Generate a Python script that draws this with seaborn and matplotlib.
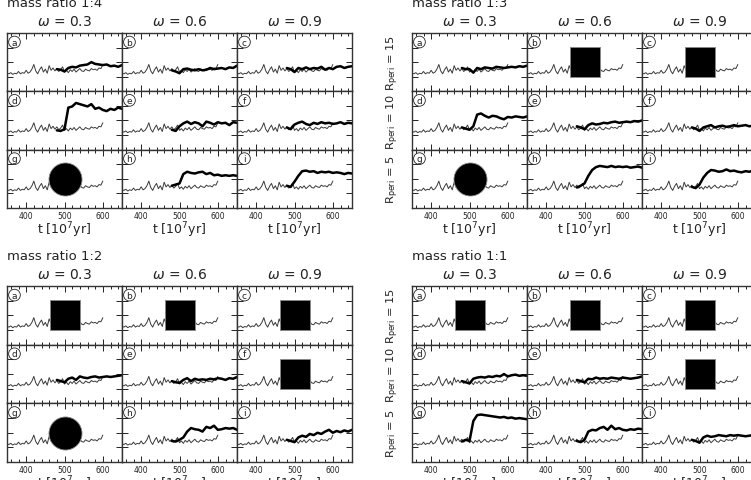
import numpy as np
import pandas as pd
import matplotlib
matplotlib.use("Agg")
import matplotlib.pyplot as plt
from matplotlib.ticker import MultipleLocator, FixedLocator
import seaborn as sns

sns.set_style("ticks")
plt.rcParams["font.family"] = ["DejaVu Sans"]

# ---------------------------------------------------------------- data
# thin line (reference run), t = 350 ... 600 step 5
t_thin = np.arange(350, 601, 5)
thin = [0.31, 0.30, 0.32, 0.29, 0.31, 0.30, 0.34, 0.30, 0.32, 0.31,
        0.36, 0.31, 0.33, 0.38, 0.46, 0.35, 0.30, 0.37, 0.42, 0.33,
        0.38, 0.31, 0.44, 0.36, 0.40, 0.35, 0.39, 0.34, 0.37, 0.42,
        0.33, 0.36, 0.32, 0.37, 0.34, 0.38, 0.33, 0.36, 0.39, 0.35,
        0.34, 0.38, 0.36, 0.35, 0.39, 0.37, 0.38, 0.36, 0.40, 0.39,
        0.46]

# thick line (merger run), t = 480 ... 650 step 10
t_thick = np.arange(480, 651, 10)

thick_14 = {
    "a": [0.38, 0.37, 0.34, 0.40, 0.42, 0.41, 0.44, 0.45, 0.46, 0.50, 0.47, 0.46, 0.45, 0.46, 0.43, 0.44, 0.42, 0.45],
    "b": [0.36, 0.34, 0.31, 0.38, 0.39, 0.37, 0.36, 0.38, 0.36, 0.37, 0.40, 0.38, 0.39, 0.40, 0.38, 0.41, 0.40, 0.44],
    "c": [0.40, 0.38, 0.33, 0.40, 0.38, 0.41, 0.38, 0.40, 0.39, 0.42, 0.37, 0.40, 0.38, 0.42, 0.43, 0.40, 0.42, 0.43],
    "d": [0.33, 0.32, 0.35, 0.72, 0.74, 0.80, 0.78, 0.76, 0.74, 0.78, 0.70, 0.72, 0.68, 0.66, 0.70, 0.68, 0.72, 0.70],
    "e": [0.34, 0.32, 0.40, 0.45, 0.48, 0.44, 0.47, 0.45, 0.40, 0.48, 0.46, 0.43, 0.47, 0.45, 0.46, 0.42, 0.47, 0.46],
    "f": [0.38, 0.35, 0.43, 0.46, 0.48, 0.44, 0.42, 0.46, 0.44, 0.47, 0.45, 0.46, 0.44, 0.45, 0.47, 0.44, 0.46, 0.45],
    "h": [0.38, 0.40, 0.42, 0.58, 0.62, 0.60, 0.59, 0.61, 0.62, 0.58, 0.60, 0.56, 0.57, 0.55, 0.56, 0.55, 0.56, 0.55],
    "i": [0.38, 0.36, 0.45, 0.55, 0.63, 0.64, 0.62, 0.63, 0.60, 0.62, 0.61, 0.62, 0.60, 0.61, 0.60, 0.58, 0.60, 0.59],
}
thick_13 = {
    "a": [0.40, 0.38, 0.38, 0.32, 0.40, 0.38, 0.41, 0.40, 0.39, 0.42, 0.41, 0.40, 0.41, 0.42, 0.41, 0.43, 0.42, 0.44],
    "d": [0.38, 0.36, 0.34, 0.40, 0.60, 0.62, 0.58, 0.55, 0.58, 0.57, 0.54, 0.52, 0.56, 0.55, 0.57, 0.56, 0.55, 0.57],
    "e": [0.40, 0.38, 0.35, 0.42, 0.45, 0.43, 0.44, 0.46, 0.45, 0.47, 0.48, 0.46, 0.47, 0.48, 0.47, 0.49, 0.48, 0.50],
    "f": [0.38, 0.36, 0.32, 0.38, 0.40, 0.42, 0.38, 0.40, 0.41, 0.39, 0.40, 0.42, 0.40, 0.41, 0.42, 0.40, 0.41, 0.40],
    "h": [0.35, 0.38, 0.42, 0.55, 0.65, 0.70, 0.72, 0.71, 0.70, 0.72, 0.70, 0.71, 0.70, 0.71, 0.69, 0.70, 0.71, 0.69],
    "i": [0.36, 0.34, 0.40, 0.52, 0.60, 0.65, 0.64, 0.62, 0.63, 0.66, 0.63, 0.64, 0.62, 0.61, 0.63, 0.62, 0.64, 0.61],
}
thick_12 = {
    "d": [0.40, 0.38, 0.36, 0.42, 0.44, 0.40, 0.46, 0.44, 0.43, 0.45, 0.46, 0.44, 0.45, 0.46, 0.45, 0.46, 0.47, 0.48],
    "e": [0.38, 0.36, 0.35, 0.40, 0.43, 0.38, 0.42, 0.40, 0.41, 0.40, 0.42, 0.41, 0.43, 0.42, 0.40, 0.43, 0.42, 0.45],
    "h": [0.36, 0.35, 0.38, 0.42, 0.52, 0.58, 0.56, 0.55, 0.52, 0.60, 0.58, 0.62, 0.55, 0.56, 0.58, 0.57, 0.58, 0.55],
    "i": [0.38, 0.36, 0.34, 0.42, 0.45, 0.43, 0.48, 0.46, 0.50, 0.48, 0.52, 0.55, 0.50, 0.53, 0.51, 0.54, 0.52, 0.55],
}
thick_11 = {
    "d": [0.38, 0.36, 0.34, 0.42, 0.44, 0.45, 0.44, 0.46, 0.45, 0.47, 0.46, 0.50, 0.46, 0.48, 0.49, 0.47, 0.48, 0.47],
    "e": [0.40, 0.38, 0.36, 0.42, 0.41, 0.44, 0.42, 0.43, 0.42, 0.44, 0.43, 0.42, 0.44, 0.43, 0.42, 0.43, 0.44, 0.46],
    "g": [0.35, 0.38, 0.36, 0.70, 0.80, 0.81, 0.80, 0.79, 0.78, 0.77, 0.76, 0.77, 0.75, 0.76, 0.74, 0.75, 0.74, 0.73],
    "h": [0.36, 0.34, 0.38, 0.52, 0.55, 0.54, 0.58, 0.60, 0.55, 0.62, 0.56, 0.58, 0.55, 0.54, 0.56, 0.55, 0.57, 0.56],
    "i": [0.38, 0.36, 0.33, 0.42, 0.45, 0.43, 0.44, 0.46, 0.45, 0.44, 0.46, 0.45, 0.46, 0.45, 0.44, 0.45, 0.46, 0.47],
}

# panels where the run ended in a merger (circle) or was not run (square)
markers_14 = {"g": "o"}
markers_13 = {"b": "s", "c": "s", "g": "o"}
markers_12 = {"a": "s", "b": "s", "c": "s", "f": "s", "g": "o"}
markers_11 = {"a": "s", "b": "s", "c": "s", "f": "s"}
marker_t = 500
marker_y = 0.5

omegas = ["0.3", "0.6", "0.9"]
rperi = ["15", "10", "5"]
letters = list("abcdefghi")

# ---------------------------------------------------------------- figure
W, H = 751, 481
fig = plt.figure(figsize=(W / 100, H / 100), dpi=100)

col_w = 115
thin_df = pd.DataFrame({"t": t_thin, "y": thin})

# (title, thick, markers, left px, top px, row height px, y labels)
blocks = [
    ("mass ratio 1:4", thick_14, markers_14, 7, 34, 58.3, False),
    ("mass ratio 1:3", thick_13, markers_13, 412, 34, 58.3, True),
    ("mass ratio 1:2", thick_12, markers_12, 7, 287, 58.7, False),
    ("mass ratio 1:1", thick_11, markers_11, 412, 287, 58.7, True),
]

for title, thick, marks, left, top, row_h, ylab in blocks:
    fig.text(left / W, 1 - (top - 27) / H, title, fontsize=9.5, color="#222222",
             ha="left", va="baseline")
    for j, om in enumerate(omegas):
        fig.text((left + col_w * (j + 0.5)) / W, 1 - (top - 8) / H,
                 r"$\omega$ = " + om, fontsize=10, color="#222222",
                 ha="center", va="baseline")
    for i in range(3):
        if ylab:
            fig.text((left - 19) / W, 1 - (top + row_h * (i + 0.5)) / H,
                     r"R$_{\mathrm{peri}}$ = " + rperi[i], fontsize=8.2,
                     color="#222222", rotation=90, ha="center", va="center")
        for j in range(3):
            k = letters[i * 3 + j]
            ax = fig.add_axes([(left + col_w * j) / W,
                               1 - (top + row_h * (i + 1)) / H,
                               col_w / W, row_h / H])
            sns.lineplot(data=thin_df, x="t", y="y", ax=ax, color="#3a3a3a",
                         lw=0.7)
            if k in thick:
                sns.lineplot(x=t_thick, y=thick[k], ax=ax, color="black",
                             lw=1.8)
            if k in marks:
                size = 437 if marks[k] == "s" else 566
                sns.scatterplot(x=[marker_t], y=[marker_y], ax=ax,
                                marker=marks[k], s=size, color="black",
                                edgecolor="#888888", linewidth=0.6, zorder=5)
            ax.text(0.065, 0.845, k, transform=ax.transAxes, ha="center",
                    va="center", fontsize=6.5, color="#222222",
                    bbox=dict(boxstyle="circle,pad=0.15", fc="none",
                              ec="#222222", lw=0.6))
            ax.set_xlim(350, 650)
            ax.set_ylim(0, 1)
            ax.xaxis.set_major_locator(FixedLocator([400, 500, 600]))
            ax.xaxis.set_minor_locator(MultipleLocator(20))
            ax.yaxis.set_major_locator(FixedLocator([0.25, 0.5, 0.75]))
            ax.tick_params(which="both", direction="in", top=True,
                           right=True, width=0.7, colors="#222222",
                           labelsize=5.5, pad=2)
            ax.tick_params(which="major", length=4)
            ax.tick_params(which="minor", length=2)
            ax.tick_params(labelleft=False)
            ax.set_ylabel("")
            for s in ax.spines.values():
                s.set_linewidth(1.0)
                s.set_color("#333333")
            if i == 2:
                ax.set_xlabel("t [10$^7$yr]", fontsize=9, color="#222222",
                              labelpad=0)
            else:
                ax.set_xlabel("")
                ax.tick_params(labelbottom=False)

fig.savefig("out.png", dpi=100)
